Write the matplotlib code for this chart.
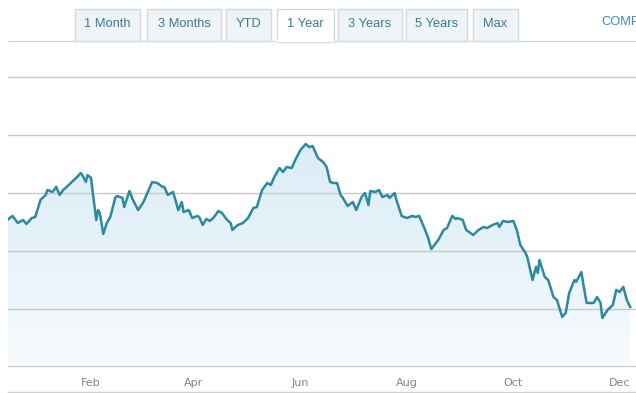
import datetime as dt
import numpy as np
import matplotlib
matplotlib.use("Agg")
import matplotlib.pyplot as plt
import matplotlib.dates as mdates
from matplotlib.patches import Rectangle, Polygon

# ---------------- data ----------------
base_date = "2019-01-01"
day_offsets = [-17, -14, -11, -8, -6, -3, -1, 2, 5, 6, 9, 11, 13, 15, 17, 20, 23, 25, 26, 28,
               29, 31, 32, 34, 35, 36, 38, 40, 42, 45, 46, 49, 50, 53, 55, 58, 61, 64, 66, 69,
               72, 73, 75, 78, 81, 83, 84, 87, 89, 92, 93, 95, 97, 99, 101, 104, 106, 109, 111, 112,
               115, 118, 121, 124, 126, 129, 132, 134, 136, 139, 141, 143, 146, 148, 151, 154, 156, 158, 161, 164,
               166, 168, 170, 172, 174, 175, 178, 181, 183, 186, 188, 190, 191, 194, 196, 198, 201, 202, 205, 206,
               209, 212, 215, 217, 219, 222, 224, 226, 230, 233, 235, 238, 240, 241, 244, 246, 250, 253, 256, 258,
               261, 264, 265, 267, 270, 273, 275, 277, 280, 281, 284, 286, 287, 288, 291, 293, 296, 298, 301, 303,
               305, 308, 309, 312, 313, 315, 319, 321, 323, 324, 327, 330, 332, 334, 336, 338, 340]
prices = [47.67, 48.02, 47.41, 47.67, 47.33, 47.84, 47.93, 49.40, 49.83, 50.26, 50.09, 50.52, 49.83, 50.26, 50.52, 50.95, 51.38, 51.72, 51.55, 50.95,
          51.55, 51.29, 50.00, 47.67, 48.53, 48.28, 46.47, 47.41, 47.93, 49.65, 49.74, 49.57, 48.79, 50.17, 49.40, 48.53, 49.22, 50.26, 50.95, 50.86,
          50.52, 50.52, 49.83, 50.09, 48.53, 49.22, 48.36, 48.53, 47.84, 48.02, 47.93, 47.24, 47.76, 47.59, 47.84, 48.45, 48.28, 47.67, 47.41, 46.81,
          47.24, 47.41, 47.84, 48.71, 48.79, 50.26, 50.86, 50.69, 51.38, 52.15, 51.81, 52.24, 52.15, 52.84, 53.71, 54.22, 53.96, 54.05, 53.02, 52.67,
          52.24, 50.95, 50.86, 50.86, 49.83, 49.65, 48.88, 49.22, 48.53, 49.65, 50.00, 48.96, 50.17, 50.09, 50.26, 49.65, 49.83, 49.57, 50.00, 49.40,
          48.02, 47.84, 48.02, 47.93, 48.02, 46.98, 46.21, 45.17, 45.95, 46.81, 46.98, 48.02, 47.76, 47.84, 47.67, 46.81, 46.38, 46.81, 47.07, 46.98,
          47.24, 47.41, 47.07, 47.59, 47.50, 47.59, 46.81, 45.52, 44.83, 44.48, 42.50, 43.62, 43.10, 44.22, 42.76, 42.50, 41.03, 40.78, 39.31, 39.66,
          41.38, 42.50, 42.33, 43.19, 42.24, 40.52, 40.52, 41.03, 40.52, 39.22, 39.91, 40.34, 41.64, 41.47, 41.90, 40.78, 40.17]
grid_values = [40, 45, 50, 55, 60]
tab_labels = ["1 Month", "3 Months", "YTD", "1 Year", "3 Years", "5 Years", "Max"]
active_tab = "1 Year"
compare_label = "COMPARE"

# ---------------- figure ----------------
W, H = 636, 393
fig = plt.figure(figsize=(W / 100, H / 100), dpi=100)
fig.patch.set_facecolor("white")

start = dt.datetime.strptime(base_date, "%Y-%m-%d")
dates = [start + dt.timedelta(days=d) for d in day_offsets]
xnum = mdates.date2num(dates)

ax = fig.add_axes([8 / W, (H - 365) / H, (636 - 8) / W, (365 - 45) / H])
ax.set_facecolor("none")
x0 = mdates.date2num(start + dt.timedelta(days=-16.6))
x1 = mdates.date2num(start + dt.timedelta(days=343.3))
ax.set_xlim(x0, x1)
ax.set_ylim(35.17, 62.76)

# gradient fill under line
ylo, yhi = ax.get_ylim()
grad = np.linspace(0, 1, 256).reshape(-1, 1) ** 0.8
top_c = np.array([0.855, 0.925, 0.965])
bot_c = np.array([0.975, 0.987, 0.995])
img = bot_c + (top_c - bot_c) * grad
img = img[::-1]
im = ax.imshow(img.reshape(256, 1, 3), extent=[x0, x1, ylo, 55.5], aspect="auto",
               origin="upper", zorder=1)
verts = [(xnum[0], ylo)] + list(zip(xnum, prices)) + [(xnum[-1], ylo)]
poly = Polygon(verts, closed=True, facecolor="none", edgecolor="none")
ax.add_patch(poly)
im.set_clip_path(poly)

ax.set_yticks(grid_values)
ax.grid(axis="y", color="#c9c9c9", linewidth=1.0, zorder=2)
ax.set_axisbelow(False)
ax.plot(xnum, prices, color="#2b8a9f", linewidth=1.8, zorder=3, solid_joinstyle="round")

ax.tick_params(axis="y", left=False, labelleft=False)
ax.xaxis.set_major_locator(mdates.MonthLocator(bymonth=[2, 4, 6, 8, 10, 12]))
ax.xaxis.set_major_formatter(mdates.DateFormatter("%b"))
ax.tick_params(axis="x", length=0, pad=8, labelsize=8, labelcolor="#848484")
for lab in ax.get_xticklabels():
    lab.set_fontfamily("Open Sans")
for s in ["top", "left", "right"]:
    ax.spines[s].set_visible(False)
ax.spines["bottom"].set_color("#cfcfcf")
ax.spines["bottom"].set_linewidth(1.0)
ax.spines["bottom"].set_position(("outward", 1))

fig.add_artist(plt.Line2D([8 / W, 1], [(H - 391.5) / H] * 2, color="#cfcfcf", linewidth=1.0))

# ---------------- tabs ----------------
def px(x, y):
    return x / W, (H - y) / H

fig.add_artist(plt.Line2D([8 / W, 1], [(H - 41) / H] * 2, color="#d3d8dc", linewidth=1.0))
tab_bounds = [(75, 140), (147, 221), (226, 271), (277, 334), (338, 402), (406, 467), (473, 518)]
for label, (l, r) in zip(tab_labels, tab_bounds):
    active = label == active_tab
    top_y, bot_y = 9, 42 if active else 41
    fx, fy = px(l, bot_y)
    rect = Rectangle((fx, fy), (r - l) / W, (bot_y - top_y) / H, transform=fig.transFigure,
                     facecolor="white" if active else "#eef4f7", edgecolor="#d3d9dd",
                     linewidth=1.0, zorder=5)
    fig.add_artist(rect)
    if active:
        fig.add_artist(plt.Line2D([(l + 1) / W, (r - 1) / W], [(H - 41) / H] * 2,
                                  color="white", linewidth=1.6, zorder=6))
    tx, ty = px((l + r) / 2, 24)
    fig.text(tx, ty, label, ha="center", va="center", fontsize=9.3,
             family="Liberation Sans", color="#3a7b96", zorder=7)

cx, cy = px(601, 22)
fig.text(cx, cy, compare_label, ha="left", va="center", fontsize=9.3,
         family="Liberation Sans", color="#3a8fb7")

fig.savefig("out.png", dpi=100, facecolor=fig.get_facecolor())
